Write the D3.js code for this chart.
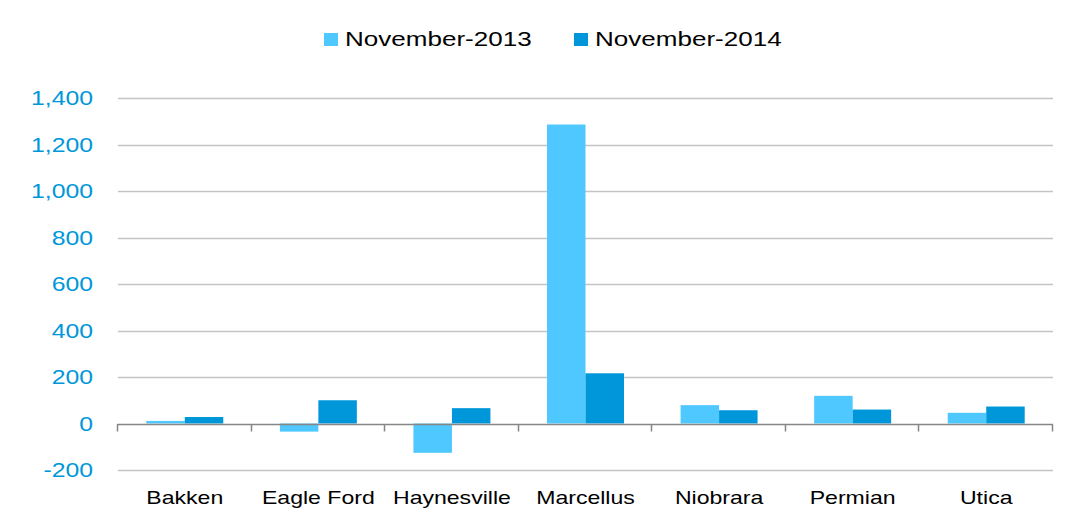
<!DOCTYPE html>
<html>
<head>
<meta charset="utf-8">
<script src="https://cdn.jsdelivr.net/npm/d3@7"></script>
<style>
  body { margin: 0; background: #fff; }
  svg text { font-family: "Liberation Sans", Arial, sans-serif; }
</style>
</head>
<body>
<svg id="chart" width="1081" height="517"></svg>
<script>
// data
const plays = ['Bakken', 'Eagle Ford', 'Haynesville', 'Marcellus', 'Niobrara', 'Permian', 'Utica'];
const seriesNames = ['November-2013', 'November-2014'];
const nov2013 = [11, -35, -126, 1286, 79, 119, 46];
const nov2014 = [28, 100, 66, 216, 57, 60, 73];
const yTicks = [-200, 0, 200, 400, 600, 800, 1000, 1200, 1400];

const colors = d3.scaleOrdinal().domain(seriesNames).range(['#4fc8ff', '#0097da']);
const stretch = 1.24; // source image is stretched horizontally
const fmt = d => d3.format(',')(d).replace('\u2212', '-');

const svg = d3.select('#chart');
const plotLeft = 118, plotRight = 1053, plotTop = 98, plotBottom = 470;

const x0 = d3.scaleBand().domain(plays).range([plotLeft, plotRight]).padding(0);
const x1 = d3.scaleBand().domain(seriesNames).range([0, x0.bandwidth()]).paddingInner(0).paddingOuter(0.735);
const y = d3.scaleLinear().domain([-200, 1400]).range([plotBottom, plotTop]);

const rows = plays.map((p, i) => ({ play: p, values: [nov2013[i], nov2014[i]] }));

// gridlines
svg.append('g')
  .selectAll('line')
  .data(yTicks.filter(t => t !== 0))
  .join('line')
  .attr('x1', plotLeft).attr('x2', plotRight)
  .attr('y1', d => Math.round(y(d)) + 0.5).attr('y2', d => Math.round(y(d)) + 0.5)
  .attr('stroke', '#c4c4c4').attr('stroke-width', 1.5);

// y labels
svg.append('g')
  .selectAll('text')
  .data(yTicks)
  .join('text')
  .attr('transform', d => `translate(93,${y(d) + 7}) scale(${stretch},1)`)
  .attr('text-anchor', 'end')
  .attr('font-size', 20)
  .attr('fill', '#0097da')
  .text(fmt);

// bars
const groups = svg.append('g')
  .selectAll('g')
  .data(rows)
  .join('g')
  .attr('transform', d => `translate(${x0(d.play)},0)`);

groups.selectAll('rect')
  .data(d => d.values.map((v, i) => ({ key: seriesNames[i], value: v })))
  .join('rect')
  .attr('x', d => x1(d.key))
  .attr('width', x1.bandwidth())
  .attr('y', d => y(Math.max(0, d.value)))
  .attr('height', d => Math.abs(y(d.value) - y(0)))
  .attr('fill', d => colors(d.key));

// zero axis with category ticks
const zeroY = Math.round(y(0)) + 0.5;
const axis = svg.append('g').attr('stroke', '#868686').attr('stroke-width', 1.5);
axis.append('line').attr('x1', plotLeft - 1).attr('x2', plotRight).attr('y1', zeroY).attr('y2', zeroY);
const bounds = plays.map(p => x0(p)).concat([plotRight]);
axis.selectAll('.tick')
  .data(bounds)
  .join('line')
  .attr('class', 'tick')
  .attr('x1', d => Math.round(d) - 0.5).attr('x2', d => Math.round(d) - 0.5)
  .attr('y1', zeroY).attr('y2', zeroY + 7);

// category labels
svg.append('g')
  .selectAll('text')
  .data(plays)
  .join('text')
  .attr('transform', d => `translate(${x0(d) + x0.bandwidth() / 2},504) scale(${stretch},1)`)
  .attr('text-anchor', 'middle')
  .attr('font-size', 18.6)
  .attr('fill', '#000')
  .text(d => d);

// legend
const legend = svg.append('g')
  .selectAll('g')
  .data(seriesNames)
  .join('g')
  .attr('transform', (d, i) => `translate(${324 + i * 250},0)`);
legend.append('rect')
  .attr('x', 0).attr('y', 33)
  .attr('width', 14).attr('height', 13)
  .attr('fill', d => colors(d));
legend.append('text')
  .attr('transform', `translate(21,45.5) scale(${stretch},1)`)
  .attr('font-size', 21)
  .attr('fill', '#000')
  .text(d => d);
</script>
</body>
</html>
